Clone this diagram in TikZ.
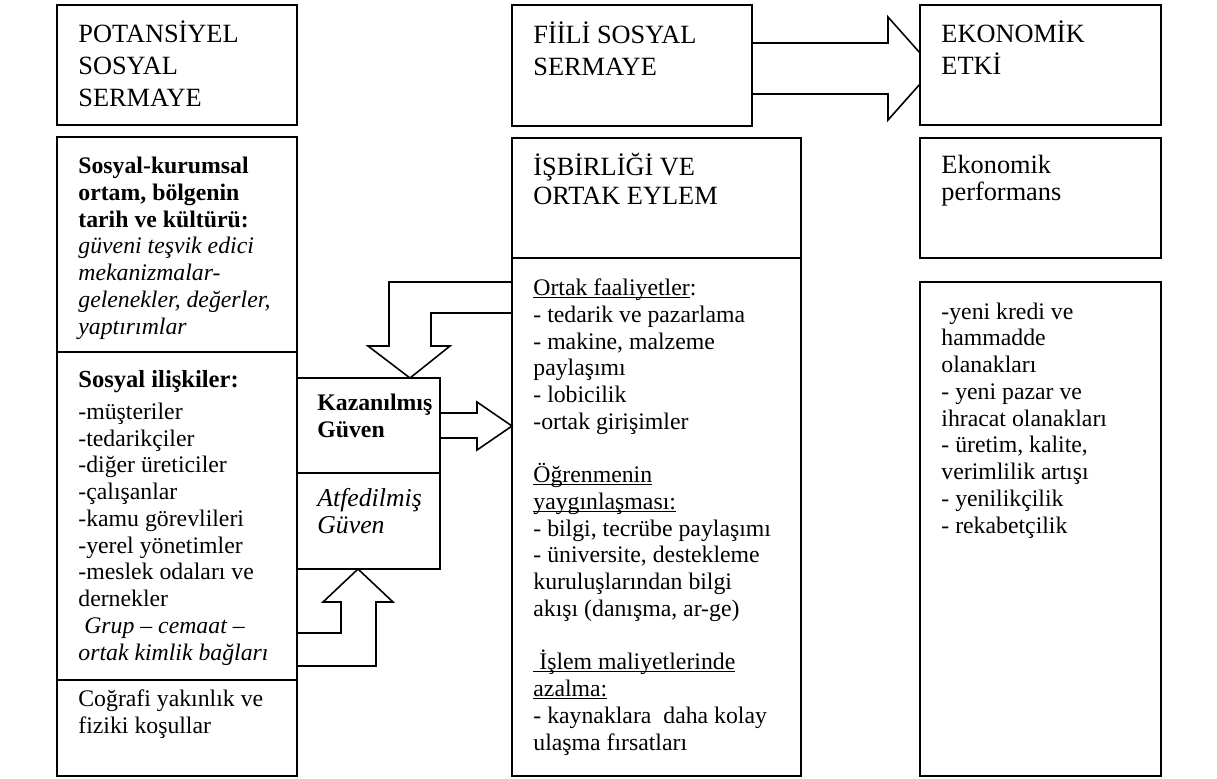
\documentclass[tikz,border=0pt]{standalone}
\usepackage{fontspec}
\setmainfont{Liberation Serif}
\newcommand\undl[1]{\setbox0\hbox{#1}\rlap{\rule[-1.3pt]{\wd0}{0.5pt}}\box0}

\begin{document}
\begin{tikzpicture}[x=0.505pt, y=-0.505pt,
  box/.style={draw, line width=1pt, anchor=north west, inner sep=0pt, outer sep=0pt},
  ttl/.style={anchor=base west, align=left, inner sep=0pt, font=\fontsize{13.3}{16}\selectfont},
  txt/.style={anchor=base west, align=left, inner sep=0pt, font=\fontsize{12}{13.5}\selectfont},
  barrow/.style={draw, line width=0.8pt, line join=miter}]
  \useasboundingbox (0,0) rectangle (1217,778);
  \node[box, minimum width=240*0.505pt, minimum height=120*0.505pt] (pot) at (57,5) {};
  \node[box, minimum width=240*0.505pt, minimum height=215*0.505pt] (kurum) at (57,137) {};
  \node[box, minimum width=240*0.505pt, minimum height=328*0.505pt] (iliski) at (57,352) {};
  \node[box, minimum width=240*0.505pt, minimum height=96*0.505pt] (cograf) at (57,680) {};
  \node[box, minimum width=143*0.505pt, minimum height=95*0.505pt] (kazan) at (297,378) {};
  \node[box, minimum width=143*0.505pt, minimum height=96*0.505pt] (atfed) at (297,473) {};
  \node[box, minimum width=240*0.505pt, minimum height=121*0.505pt] (fiili) at (512,5) {};
  \node[box, minimum width=289*0.505pt, minimum height=120*0.505pt] (isbir) at (512,138) {};
  \node[box, minimum width=289*0.505pt, minimum height=518*0.505pt] (ortak) at (512,258) {};
  \node[box, minimum width=241*0.505pt, minimum height=120*0.505pt] (ekon) at (920,5) {};
  \node[box, minimum width=241*0.505pt, minimum height=120*0.505pt] (perf) at (920,138) {};
  \node[box, minimum width=241*0.505pt, minimum height=494*0.505pt] (etki) at (920,282) {};

  \node[ttl] (potT) at (78,106) {POTANSİYEL\\SOSYAL\\SERMAYE};
  \node[txt] (kurumT) at (78,334) {\textbf{Sosyal-kurumsal}\\\textbf{ortam, bölgenin}\\
    \textbf{tarih ve kültürü:}\\\textit{güveni teşvik edici}\\\textit{mekanizmalar-}\\
    \textit{gelenekler, değerler,}\\\textit{yaptırımlar}};
  \node[txt] (iliskiT) at (78,660) {{\fontsize{12.4}{15}\selectfont\textbf{Sosyal ilişkiler:}}\\[2.7pt]
    -müşteriler\\-tedarikçiler\\-diğer üreticiler\\-çalışanlar\\-kamu görevlileri\\
    -yerel yönetimler\\-meslek odaları ve\\dernekler\\\ \textit{Grup – cemaat –}\\
    \textit{ortak kimlik bağları}};
  \node[txt] (cografT) at (78,733) {Coğrafi yakınlık ve\\fiziki koşullar};
  \node[ttl, font=\fontsize{12}{13.6}\selectfont\bfseries] (kazanT) at (317,437) {Kazanılmış\\Güven};
  \node[ttl, font=\fontsize{13}{13.6}\selectfont\itshape] (atfedT) at (317,533) {Atfedilmiş\\Güven};
  \node[ttl] (fiiliT) at (533,75) {FİİLİ SOSYAL\\SERMAYE};
  \node[ttl, font=\fontsize{13.3}{14.6}\selectfont] (isbirT) at (533,204) {İŞBİRLİĞİ VE\\ORTAK EYLEM};
  \node[ttl] (ekonT) at (941,74) {EKONOMİK\\ETKİ};
  \node[ttl, font=\fontsize{13.3}{13.6}\selectfont] (perfT) at (941,200) {Ekonomik\\performans};
  \node[txt] (ortakT) at (533,750) {\undl{Ortak faaliyetler}:\\- tedarik ve pazarlama\\
    - makine, malzeme\\paylaşımı\\- lobicilik\\-ortak girişimler\\[13.5pt]
    \undl{Öğrenmenin}\\\undl{yaygınlaşması:}\\- bilgi, tecrübe paylaşımı\\
    - üniversite, destekleme\\kuruluşlarından bilgi\\akışı (danışma, ar-ge)\\[13.5pt]
    \undl{\ İşlem maliyetlerinde}\\\undl{azalma:}\\- kaynaklara\ \ daha kolay\\ulaşma fırsatları};
  \node[txt] (etkiT) at (941,533) {-yeni kredi ve\\hammadde\\olanakları\\- yeni pazar ve\\
    ihracat olanakları\\- üretim, kalite,\\verimlilik artışı\\- yenilikçilik\\- rekabetçilik};

  \draw[barrow] (fiili.east |- 0,43) -- (888,43) -- (888,17) -- (ekon.west |- 0,53);
  \draw[barrow] (ekon.west |- 0,84) -- (888,120) -- (888,94) -- (fiili.east |- 0,94);
  \draw[barrow] (ortak.west |- 0,282) -- (389,282) -- (389,346) -- (368,346)
    -- (kazan.north -| 410,0) -- (450,346) -- (431,346) -- (431,313) -- (ortak.west |- 0,313);
  \draw[barrow] (kazan.east |- 0,413) -- (477,413) -- (477,402) -- (ortak.west |- 0,426)
    -- (477,450) -- (477,438) -- (kazan.east |- 0,438);
  \draw[barrow] (iliski.east |- 0,633) -- (341,633) -- (341,602) -- (323,602)
    -- (atfed.south -| 358,0) -- (393,602) -- (376,602) -- (376,666) -- (iliski.east |- 0,666);
\end{tikzpicture}
\end{document}
